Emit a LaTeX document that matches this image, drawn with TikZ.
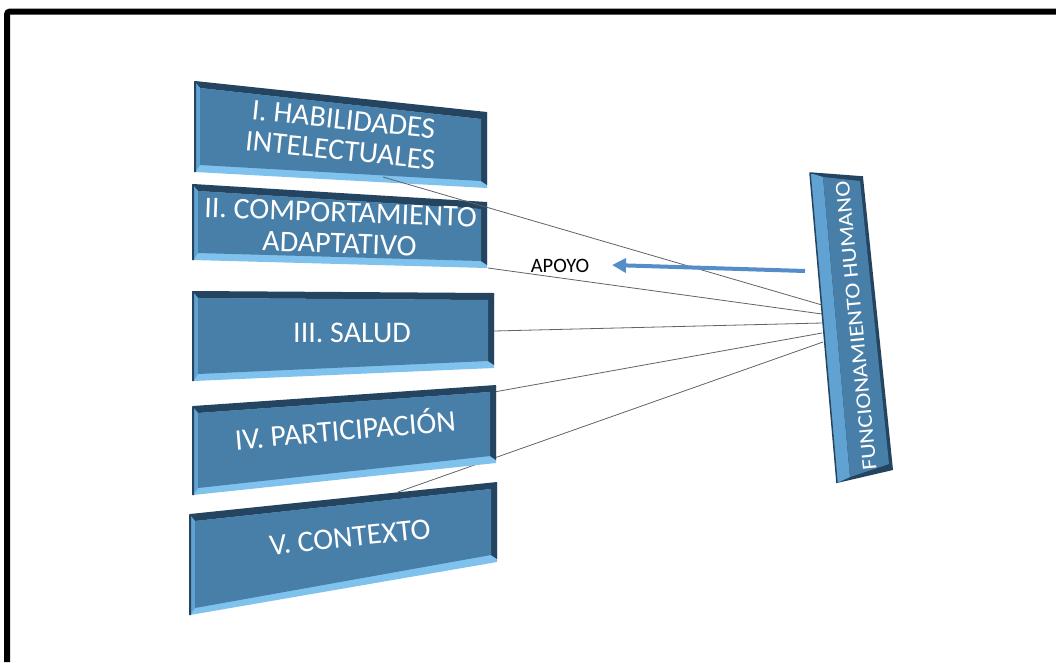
\documentclass[tikz,border=0pt]{standalone}
\usepackage{fontspec}
\setmainfont{Carlito}
\newfontfamily\barfont[FakeStretch=1.15]{Carlito}
\usetikzlibrary{calc,arrows.meta}
\definecolor{slabface}{RGB}{72,127,168}
\definecolor{slablight}{RGB}{128,194,238}
\definecolor{slabside}{RGB}{96,162,210}
\definecolor{slabdark}{RGB}{36,68,96}
\definecolor{arrowblue}{RGB}{84,141,201}
\definecolor{linkgray}{RGB}{95,100,105}
\newcommand\slabshape[4]{%
  \fill[slablight] (#1) -- (#2) -- (#3) -- (#4) -- cycle;
  \fill[slabdark] (#1) -- (#2) -- ($(#3)+(0,-3)$) -- ($(#3)+(-6,-7)$) -- ($(#2)+(-6,6)$) -- ($(#1)+(5,6)$) -- cycle;
  \fill[slabside] (#1) -- ($(#1)+(5,6)$) -- ($(#4)+(5,-7)$) -- (#4) -- cycle;
  \fill[slabface] ($(#1)+(5,6)$) -- ($(#2)+(-6,6)$) -- ($(#3)+(-6,-7)$) -- ($(#4)+(5,-7)$) -- cycle;
  \draw[slabdark, line width=2pt, line join=round] (#4) -- (#1) -- (#2);
}
\tikzset{
  slabtext/.style={text=white, align=center, font=\fontsize{30}{31}\selectfont, inner sep=0pt},
  link/.style={draw=linkgray, line width=0.8pt},
  frameline/.style={line width=6pt, rounded corners=3pt}
}
\begin{document}
\begin{tikzpicture}[x=1pt,y=-1pt]
\useasboundingbox (0,0) rectangle (1056,662);
\fill[white] (0,0) rectangle (1056,662);
\draw[frameline] (1056,11.5) -- (7,11.5) -- (7,662);

% slab corners
\coordinate (s1a) at (195,82);  \coordinate (s1b) at (487,113);
\coordinate (s1c) at (487,188); \coordinate (s1d) at (195,172);
\coordinate (s2a) at (193,185); \coordinate (s2b) at (487,203);
\coordinate (s2c) at (487,268); \coordinate (s2d) at (193,260);
\coordinate (s3a) at (193,292); \coordinate (s3b) at (494,294);
\coordinate (s3c) at (494,368); \coordinate (s3d) at (193,381);
\coordinate (s4a) at (193,407); \coordinate (s4b) at (496,386);
\coordinate (s4c) at (496,463); \coordinate (s4d) at (193,495);
\coordinate (s5a) at (190,515); \coordinate (s5b) at (497,483);
\coordinate (s5c) at (497,562); \coordinate (s5d) at (190,615);

\slabshape{s1a}{s1b}{s1c}{s1d}
\slabshape{s2a}{s2b}{s2c}{s2d}
\slabshape{s3a}{s3b}{s3c}{s3d}
\slabshape{s5a}{s5b}{s5c}{s5d}

% connector end points
\coordinate (p1) at (383,177); \coordinate (e1) at (822,305);
\coordinate (p2) at (488,268); \coordinate (e2) at (822,314);
\coordinate (p3) at (494,331); \coordinate (e3) at (822,323);
\coordinate (p4) at (494,392); \coordinate (e4) at (822,333);
\coordinate (p5) at (398,492); \coordinate (e5) at (823,342);
\draw[link] (p1) -- (e1);
\draw[link] (p2) -- (e2);
\draw[link] (p3) -- (e3);
\draw[link] (p4) -- (e4);
\draw[link] (p5) -- (e5);

\slabshape{s4a}{s4b}{s4c}{s4d}

% vertical bar
\coordinate (ba) at (810,173); \coordinate (bb) at (863,177);
\coordinate (bc) at (893,470); \coordinate (bd) at (837,483);
\fill[slabdark] (ba) -- (bb) -- (bc) -- (bd) -- cycle;
\fill[slabside] (ba) -- ($(ba)+(13,4)$) -- ($(bd)+(13,-6)$) -- (bd) -- cycle;
\fill[slabface] ($(ba)+(13,4)$) -- ($(bb)+(-3,4)$) -- ($(bc)+(-4,-6)$) -- ($(bd)+(13,-6)$) -- cycle;
\draw[slabdark, line width=1.5pt, line join=round] (bd) -- (ba) -- (bb);

% texts
\node[slabtext, rotate=-6] (t1) at (342,135) {I. HABILIDADES\\INTELECTUALES};
\node[slabtext, rotate=-2] (t2) at (340,228) {II. COMPORTAMIENTO\\ADAPTATIVO};
\node[slabtext] (t3) at (352,333) {III. SALUD};
\node[slabtext, rotate=5] (t4) at (345,428) {IV. PARTICIPACIÓN};
\node[slabtext, rotate=6] (t5) at (350,537) {V. CONTEXTO};
\node[text=white, inner sep=0pt, font=\barfont\fontsize{21}{24}\selectfont, rotate=95.5] (fh) at (856,326) {FUNCIONAMIENTO HUMANO};

% arrow
\node[inner sep=0pt, font=\fontsize{20.5}{24}\selectfont] (apoyo) at (560,266) {APOYO};
\coordinate (arrtail) at (805,271);
\coordinate (arrtip) at (612,265);
\draw[arrowblue, line width=4pt, -{Triangle[length=14pt,width=14pt]}] (arrtail) -- (arrtip);
\end{tikzpicture}
\end{document}
